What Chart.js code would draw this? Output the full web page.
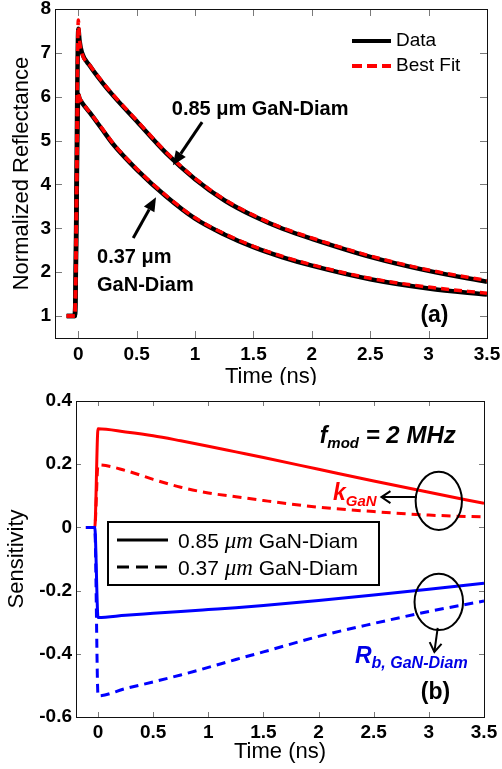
<!DOCTYPE html>
<html>
<head>
<meta charset="utf-8">
<script src="https://cdn.jsdelivr.net/npm/chart.js@4.4.1/dist/chart.umd.min.js"></script>
<style>
  html, body { margin: 0; padding: 0; background: #fff; }
  #wrap { position: relative; width: 502px; height: 769px; }
  canvas { position: absolute; left: 0; }
</style>
</head>
<body>
<div id="wrap">
  <canvas id="chart_a" width="502" height="385" style="top:0"></canvas>
  <canvas id="chart_b" width="502" height="384" style="top:385px"></canvas>
</div>
<script>
// ---- panel (a): normalized reflectance ----
const time_a   = [-0.1, -0.03, 0, 0.01, 0.03, 0.1, 0.2, 0.3, 0.5, 0.75, 1.0, 1.25, 1.5, 1.75, 2.0, 2.5, 3.0, 3.5];
const data_085 = [1, 1, 7.55, 7.28, 7.01, 6.70, 6.34, 6.02, 5.44, 4.72, 4.12, 3.64, 3.28, 2.99, 2.76, 2.35, 2.03, 1.78];
const fit_085  = [1, 1, 7.75, 7.30, 7.00, 6.71, 6.36, 6.04, 5.46, 4.74, 4.14, 3.66, 3.30, 3.01, 2.78, 2.37, 2.05, 1.81];
const data_037 = [1, 1, 6.05, 5.96, 5.87, 5.63, 5.27, 4.91, 4.34, 3.73, 3.22, 2.86, 2.57, 2.34, 2.15, 1.84, 1.63, 1.49];
const fit_037  = [1, 1, 6.10, 5.98, 5.88, 5.64, 5.29, 4.93, 4.36, 3.75, 3.24, 2.88, 2.59, 2.36, 2.17, 1.86, 1.66, 1.52];

// ---- panel (b): sensitivity at f_mod = 2 MHz ----
const time_b = [-0.11, -0.03, 0, 0.25, 0.5, 0.75, 1.0, 1.25, 1.5, 2.0, 2.5, 3.0, 3.5];
const k_085  = [0, 0, 0.312, 0.302, 0.290, 0.274, 0.257, 0.239, 0.221, 0.184, 0.147, 0.111, 0.076];
const k_037  = [0, 0, 0.198, 0.180, 0.152, 0.127, 0.109, 0.097, 0.085, 0.064, 0.050, 0.039, 0.033];
const rb_085 = [0, 0, -0.285, -0.278, -0.272, -0.266, -0.260, -0.254, -0.247, -0.231, -0.214, -0.196, -0.177];
const rb_037 = [0, 0, -0.533, -0.510, -0.489, -0.467, -0.443, -0.418, -0.394, -0.345, -0.304, -0.266, -0.233];

const x_ticks   = [0, 0.5, 1, 1.5, 2, 2.5, 3, 3.5];
const y_ticks_a = [1, 2, 3, 4, 5, 6, 7, 8];
const y_ticks_b = [-0.6, -0.4, -0.2, 0, 0.2, 0.4];

const SANS = "'Liberation Sans', Arial, Helvetica, sans-serif";
const SERIF = "'Liberation Serif', 'Times New Roman', serif";

function points(xs, ys) {
    return xs.map((x, i) => ({ x: x, y: ys[i] }));
}

function line(data, color, width, dash) {
    return {
        data: data,
        borderColor: color,
        borderWidth: width,
        borderDash: dash || [],
        pointRadius: 0,
        fill: false,
        cubicInterpolationMode: 'monotone'
    };
}

// draws a row of text pieces with their own fonts one after another
function drawRuns(ctx, x, y, runs) {
    let cx = x;
    runs.forEach(r => {
        ctx.font = r.f;
        ctx.fillStyle = r.c || '#000';
        ctx.textBaseline = 'alphabetic';
        ctx.textAlign = 'left';
        ctx.fillText(r.t, cx, y + (r.dy || 0));
        cx += ctx.measureText(r.t).width;
    });
}

function drawArrow(ctx, x1, y1, x2, y2, opts) {
    const a = Math.atan2(y2 - y1, x2 - x1);
    const h = opts.head, w = opts.half;
    const hx = x2 - h * Math.cos(a), hy = y2 - h * Math.sin(a);
    ctx.save();
    ctx.strokeStyle = '#000';
    ctx.fillStyle = '#000';
    ctx.lineWidth = opts.width;
    ctx.beginPath();
    ctx.moveTo(x1, y1);
    ctx.lineTo(opts.open ? x2 : hx, opts.open ? y2 : hy);
    ctx.stroke();
    ctx.beginPath();
    ctx.moveTo(hx + w * Math.sin(a), hy - w * Math.cos(a));
    ctx.lineTo(x2, y2);
    ctx.lineTo(hx - w * Math.sin(a), hy + w * Math.cos(a));
    if (opts.open) {
        ctx.stroke();
    } else {
        ctx.closePath();
        ctx.fill();
    }
    ctx.restore();
}

// box frame with inward ticks on all four sides
const framePlugin = {
    id: 'frame',
    afterDraw(chart, args, opts) {
        const { ctx, chartArea: a, scales } = chart;
        const len = opts.tickLen;
        ctx.save();
        ctx.lineWidth = 1;
        ctx.strokeStyle = '#7a7a7a';
        ctx.beginPath();
        scales.x.ticks.forEach(t => {
            const px = Math.round(scales.x.getPixelForValue(t.value)) + 0.5;
            ctx.moveTo(px, a.bottom); ctx.lineTo(px, a.bottom - len);
            ctx.moveTo(px, a.top); ctx.lineTo(px, a.top + len);
        });
        scales.y.ticks.forEach(t => {
            const py = Math.round(scales.y.getPixelForValue(t.value)) + 0.5;
            ctx.moveTo(a.left, py); ctx.lineTo(a.left + len, py);
            ctx.moveTo(a.right, py); ctx.lineTo(a.right - len, py);
        });
        ctx.stroke();
        ctx.strokeStyle = '#111';
        ctx.strokeRect(Math.round(a.left) + 0.5, Math.round(a.top) + 0.5,
                       Math.round(a.right - a.left), Math.round(a.bottom - a.top));
        ctx.restore();
    }
};

function axisOptions(min, max, tickValues, fitSize, isX, tickPad, titleText, titlePad) {
    return {
        type: 'linear',
        min: min,
        max: max,
        afterBuildTicks: s => { s.ticks = tickValues.map(v => ({ value: v })); },
        afterFit: s => {
            if (isX) { s.height = fitSize; } else { s.width = fitSize; }
            s.paddingLeft = 0; s.paddingRight = 0; s.paddingTop = 0; s.paddingBottom = 0;
        },
        grid: { display: false, drawTicks: false },
        border: { display: false },
        ticks: {
            autoSkip: false,
            maxRotation: 0,
            padding: tickPad,
            color: '#000',
            font: { family: SANS, size: 19, weight: 'bold' },
            callback: v => String(v)
        },
        title: {
            display: true,
            text: titleText,
            color: '#000',
            font: { family: SANS, size: 22, lineHeight: isX ? 0.75 : 1.2 },
            padding: titlePad
        }
    };
}

// ---------------- chart (a) ----------------
const annotA = {
    id: 'annotA',
    afterDraw(chart) {
        const { ctx, chartArea: a } = chart;
        const X = v => chart.scales.x.getPixelForValue(v);
        const Y = v => chart.scales.y.getPixelForValue(v);
        const bold = 'bold 20px ' + SANS;
        ctx.save();
        drawRuns(ctx, X(0.80), Y(5.58), [{ t: '0.85 \u03bcm GaN-Diam', f: bold }]);
        drawArrow(ctx, X(1.06), Y(5.42), X(0.81), Y(4.44), { head: 14, half: 6, width: 3 });
        drawRuns(ctx, X(0.16), Y(2.21), [{ t: '0.37 \u03bcm', f: bold }]);
        drawRuns(ctx, X(0.16), Y(1.57), [{ t: 'GaN-Diam', f: bold }]);
        drawArrow(ctx, X(0.47), Y(2.78), X(0.665), Y(3.71), { head: 14, half: 6, width: 3 });
        ctx.font = 'bold 23px ' + SANS;
        ctx.fillStyle = '#000';
        ctx.textAlign = 'center';
        ctx.textBaseline = 'middle';
        ctx.fillText('(a)', X(3.05), Y(1.02));

        // legend
        const lx0 = a.left + 297, lx1 = a.left + 336, tx = a.left + 341;
        const ly1 = a.top + 32, ly2 = a.top + 57;
        ctx.lineWidth = 4;
        ctx.strokeStyle = '#000';
        ctx.beginPath(); ctx.moveTo(lx0, ly1); ctx.lineTo(lx1, ly1); ctx.stroke();
        ctx.strokeStyle = '#ff0000';
        ctx.setLineDash([10, 5]);
        ctx.beginPath(); ctx.moveTo(lx0, ly2); ctx.lineTo(lx1, ly2); ctx.stroke();
        ctx.setLineDash([]);
        ctx.font = '19px ' + SANS;
        ctx.fillStyle = '#000';
        ctx.textAlign = 'left';
        ctx.textBaseline = 'middle';
        ctx.fillText('Data', tx, ly1);
        ctx.fillText('Best Fit', tx, ly2);
        ctx.restore();
    }
};

new Chart(document.getElementById('chart_a').getContext('2d'), {
    type: 'line',
    data: {
        datasets: [
            line(points(time_a, fit_085), '#ff0000', 3.5, [8, 5]),
            line(points(time_a, fit_037), '#ff0000', 3.5, [8, 5]),
            line(points(time_a, data_085), '#000000', 4.5),
            line(points(time_a, data_037), '#000000', 4.5)
        ]
    },
    options: {
        responsive: false,
        animation: false,
        layout: { padding: { top: 9, right: 15, left: 0, bottom: 0 } },
        plugins: { legend: { display: false }, tooltip: { enabled: false }, frame: { tickLen: 7 } },
        scales: {
            x: axisOptions(-0.2, 3.5, x_ticks, 47, true, 5, 'Time (ns)', { top: 0, bottom: 0 }),
            y: axisOptions(0.5, 8, y_ticks_a, 55, false, 4, 'Normalized Reflectance', { top: 9, bottom: 0 })
        }
    },
    plugins: [framePlugin, annotA]
});

// ---------------- chart (b) ----------------
const annotB = {
    id: 'annotB',
    afterDraw(chart) {
        const { ctx, chartArea: a } = chart;
        const X = v => chart.scales.x.getPixelForValue(v);
        const Y = v => chart.scales.y.getPixelForValue(v);
        const bi = s => 'italic bold ' + s + 'px ' + SANS;
        ctx.save();
        drawRuns(ctx, X(2.01), Y(0.267), [
            { t: 'f', f: bi(23) },
            { t: 'mod', f: bi(15), dy: 5 },
            { t: ' = 2 MHz', f: bi(24) }
        ]);
        drawRuns(ctx, X(2.13), Y(0.087), [
            { t: 'k', f: bi(23), c: '#ff0000' },
            { t: 'GaN', f: bi(15), c: '#ff0000', dy: 6 }
        ]);
        drawRuns(ctx, X(2.33), Y(-0.429), [
            { t: 'R', f: bi(23), c: '#0000e6' },
            { t: 'b, GaN-Diam', f: bi(16), c: '#0000e6', dy: 5 }
        ]);

        // ellipses around the curve pairs
        ctx.lineWidth = 2;
        ctx.strokeStyle = '#000';
        [[3.09, 0.084, 0.21, 0.092], [3.09, -0.236, 0.22, 0.089]].forEach(e => {
            const cx = X(e[0]), cy = Y(e[1]);
            ctx.beginPath();
            ctx.ellipse(cx, cy, X(e[0] + e[2]) - cx, Y(e[1] - e[3]) - cy, 0, 0, Math.PI * 2);
            ctx.stroke();
        });
        drawArrow(ctx, X(2.89), Y(0.096), X(2.57), Y(0.096), { head: 9, half: 6, width: 2, open: true });
        drawArrow(ctx, X(3.08), Y(-0.318), X(3.05), Y(-0.394), { head: 9, half: 6, width: 2, open: true });

        ctx.font = 'bold 23px ' + SANS;
        ctx.fillStyle = '#000';
        ctx.textAlign = 'center';
        ctx.textBaseline = 'middle';
        ctx.fillText('(b)', X(3.06), Y(-0.524));

        // legend box
        const bx = a.left + 32, by = a.top + 121;
        ctx.lineWidth = 2;
        ctx.strokeRect(bx, by, 271, 63);
        ctx.lineWidth = 3;
        ctx.beginPath(); ctx.moveTo(a.left + 41, a.top + 139); ctx.lineTo(a.left + 92, a.top + 139); ctx.stroke();
        ctx.setLineDash([12, 7]);
        ctx.beginPath(); ctx.moveTo(a.left + 41, a.top + 166); ctx.lineTo(a.left + 92, a.top + 166); ctx.stroke();
        ctx.setLineDash([]);
        const reg = '21px ' + SANS, mu = 'italic 23px ' + SERIF;
        drawRuns(ctx, a.left + 102, a.top + 147, [
            { t: '0.85 ', f: reg }, { t: '\u03bcm', f: mu }, { t: ' GaN-Diam', f: reg }
        ]);
        drawRuns(ctx, a.left + 102, a.top + 174, [
            { t: '0.37 ', f: reg }, { t: '\u03bcm', f: mu }, { t: ' GaN-Diam', f: reg }
        ]);
        ctx.restore();
    }
};

new Chart(document.getElementById('chart_b').getContext('2d'), {
    type: 'line',
    data: {
        datasets: [
            line(points(time_b, rb_085), '#0000ff', 3),
            line(points(time_b, rb_037), '#0000ff', 3, [9, 6]),
            line(points(time_b, k_085), '#ff0000', 3),
            line(points(time_b, k_037), '#ff0000', 3, [9, 6])
        ]
    },
    options: {
        responsive: false,
        animation: false,
        layout: { padding: { top: 16, right: 18, left: 0, bottom: 0 } },
        plugins: { legend: { display: false }, tooltip: { enabled: false }, frame: { tickLen: 5 } },
        scales: {
            x: axisOptions(-0.2, 3.5, x_ticks, 52, true, 4, 'Time (ns)', { top: 0, bottom: 9 }),
            y: axisOptions(-0.6, 0.4, y_ticks_b, 76, false, 4, 'Sensitivity', { top: 4, bottom: 0 })
        }
    },
    plugins: [framePlugin, annotB]
});
</script>
</body>
</html>
